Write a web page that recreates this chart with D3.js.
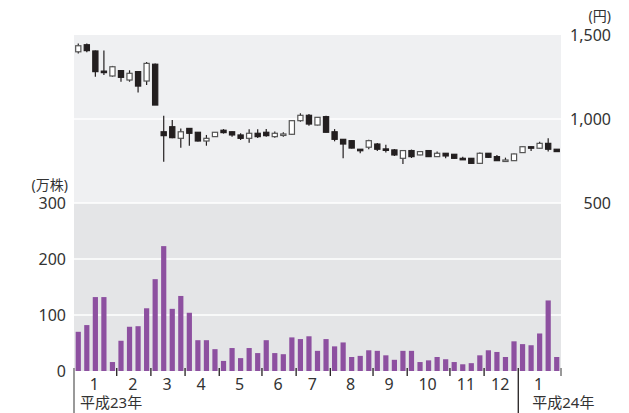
<!DOCTYPE html>
<html>
<head>
<meta charset="utf-8">
<script src="https://cdn.jsdelivr.net/npm/d3@7"></script>
<style>
  body { margin: 0; background: #fff; }
  text { font-family: "Noto Sans", "Noto Sans CJK JP", sans-serif; fill: #333; }
</style>
</head>
<body>
<svg id="chart" width="629" height="413"></svg>
<script>
// weekly share price (yen), 平成23年1月 - 平成24年1月
const open  = [1400,1442,1405,1285,1256,1288,1232,1282,1226,1326, 924, 954, 885, 944, 921, 869, 895, 933, 924, 905,
                885, 915, 921, 895, 908, 909, 990,1022, 964,1014, 924, 879, 871, 820, 832, 851, 822, 816, 766, 812,
                786, 812, 776, 796, 790, 766, 766, 736, 796, 776, 752, 752, 800, 835, 826, 855, 820];
const high  = [1450,1450,1408,1407,1316,1290,1290,1285,1339,1331,1020, 994, 944, 946, 923, 905, 923, 940, 926, 915,
                939, 939, 940, 925, 921, 992,1034,1030,1012,1020, 940, 881, 873, 820, 877, 857, 847, 822, 815, 818,
                808, 814, 806, 798, 792, 776, 768, 800, 798, 786, 770, 794, 837, 837, 865, 885, 822];
const low   = [1390,1397,1252,1262,1252,1222,1222,1157,1202,1083, 746, 885, 829, 841, 866, 841, 893, 913, 895, 875,
                859, 887, 895, 889, 895, 905, 984, 960, 962, 919, 867, 766, 825, 796, 820, 810, 800, 780, 732, 768,
                784, 774, 776, 766, 762, 756, 734, 734, 770, 750, 750, 750, 798, 810, 824, 806, 804];
const close = [1436,1407,1282,1280,1311,1248,1272,1196,1331,1083, 901, 889, 924, 915, 869, 885, 921, 919, 905, 885,
                915, 895, 901, 915, 911, 990,1022, 970,1010, 921, 879, 851, 827, 815, 871, 820, 818, 786, 812, 776,
                806, 776, 796, 780, 766, 762, 736, 796, 772, 752, 756, 792, 835, 826, 855, 820, 806];
// weekly volume (万株)
const volume = [70, 82,132,132, 16, 54, 79, 80,112,164,223,111,134,104, 55, 55, 39, 18, 41, 23,
                41, 32, 55, 32, 30, 60, 57, 62, 36, 57, 44, 51, 25, 27, 37, 36, 28, 20, 36, 36,
                16, 19, 25, 21, 16, 12, 14, 28, 37, 34, 25, 53, 48, 46, 67,126, 25];

const monthLabels = ["1","2","3","4","5","6","7","8","9","10","11","12","1"];
const monthStarts = [0, 5, 9, 13, 17, 22, 26, 30, 35, 39, 44, 48, 52];
const yearLabels = ["平成23年", "平成24年"];
const yearStarts = [0, 52];
const priceTicks = [500, 1000, 1500];
const volumeTicks = [0, 100, 200, 300];

const svg = d3.select("#chart");
const left = 74, right = 561;
const weeks = volume.map((d, i) => i);

const x = d3.scaleBand()
    .domain(weeks)
    .range([left, right])
    .padding(0);
const bw = x.bandwidth();
const cx = i => x(i) + bw / 2;

const yPrice = d3.scaleLinear().domain([500, 1500]).range([203, 35]);
const yVol = d3.scaleLinear().domain([0, 300]).range([371, 203]);

// panel backgrounds
svg.append("rect")
    .attr("x", left).attr("y", yPrice(1500))
    .attr("width", right - left).attr("height", yPrice(500) - yPrice(1500))
    .attr("fill", "#eff0f2");
svg.append("rect")
    .attr("x", left).attr("y", yVol(300))
    .attr("width", right - left).attr("height", yVol(0) - yVol(300))
    .attr("fill", "#e4e5e7");

// grid lines
svg.append("g")
    .selectAll("line.pgrid")
    .data(priceTicks.filter(d => d > 500 && d < 1500))
    .join("line")
    .attr("x1", left).attr("x2", right)
    .attr("y1", d => yPrice(d)).attr("y2", d => yPrice(d))
    .attr("stroke", "#fff").attr("stroke-width", 1.5);
svg.append("g")
    .selectAll("line.vgrid")
    .data(volumeTicks.filter(d => d > 0))
    .join("line")
    .attr("x1", left).attr("x2", right)
    .attr("y1", d => yVol(d)).attr("y2", d => yVol(d))
    .attr("stroke", "#fff").attr("stroke-width", 1.5);

// volume bars
svg.append("g")
    .selectAll("rect")
    .data(weeks)
    .join("rect")
    .attr("x", i => cx(i) - 2.6)
    .attr("width", 5.2)
    .attr("y", i => yVol(volume[i]))
    .attr("height", i => yVol(0) - yVol(volume[i]))
    .attr("fill", "#8d50a0");

// candles
const candles = svg.append("g")
    .selectAll("g")
    .data(weeks)
    .join("g");

candles.append("line")
    .attr("x1", cx).attr("x2", cx)
    .attr("y1", i => yPrice(high[i]))
    .attr("y2", i => yPrice(low[i]))
    .attr("stroke", "#231f20")
    .attr("stroke-width", 1.2);

candles.append("rect")
    .attr("x", i => cx(i) - 2.6)
    .attr("width", 5.2)
    .attr("y", i => yPrice(Math.max(open[i], close[i])))
    .attr("height", i => Math.max(1.5, yPrice(Math.min(open[i], close[i])) - yPrice(Math.max(open[i], close[i]))))
    .attr("fill", i => close[i] > open[i] ? "#fff" : "#231f20")
    .attr("stroke", i => close[i] > open[i] ? "#555" : "#231f20")
    .attr("stroke-width", 1.2);

// left axis (volume)
svg.append("g")
    .selectAll("text")
    .data(volumeTicks)
    .join("text")
    .attr("x", 66)
    .attr("y", d => yVol(d))
    .attr("dy", "0.35em")
    .attr("text-anchor", "end")
    .attr("font-size", 16)
    .text(d => d);
svg.append("text")
    .attr("x", 68).attr("y", 185).attr("dy", "0.35em")
    .attr("text-anchor", "end")
    .attr("font-size", 14)
    .text("(万株)");

// right axis (price)
svg.append("g")
    .selectAll("text")
    .data(priceTicks)
    .join("text")
    .attr("x", 611)
    .attr("y", d => yPrice(d))
    .attr("dy", "0.35em")
    .attr("text-anchor", "end")
    .attr("font-size", 16)
    .text(d => d3.format(",")(d));
svg.append("text")
    .attr("x", 611).attr("y", 16).attr("dy", "0.35em")
    .attr("text-anchor", "end")
    .attr("font-size", 14)
    .text("(円)");

// month ticks and labels
const bounds = monthStarts.map(i => x(i)).concat([right]);
svg.append("g")
    .selectAll("line")
    .data(bounds)
    .join("line")
    .attr("x1", d => d).attr("x2", d => d)
    .attr("y1", 368)
    .attr("y2", (d, k) => (k === 0 || k === 12) ? 413 : 376)
    .attr("stroke", (d, k) => (k === 0 || k === bounds.length - 1) ? "#999" : "#231f20")
    .attr("stroke-width", (d, k) => (k === 0 || k === bounds.length - 1) ? 2 : 1.3);

svg.append("g")
    .selectAll("text")
    .data(monthLabels)
    .join("text")
    .attr("x", (d, k) => (bounds[k] + bounds[k + 1]) / 2 - 1)
    .attr("y", 384)
    .attr("dy", "0.35em")
    .attr("text-anchor", "middle")
    .attr("font-size", 16)
    .text(d => d);

svg.append("g")
    .selectAll("text")
    .data(yearLabels)
    .join("text")
    .attr("x", (d, k) => x(yearStarts[k]) + (k === 0 ? 6 : 14))
    .attr("y", 403)
    .attr("dy", "0.35em")
    .attr("font-size", 15)
    .text(d => d);
</script>
</body>
</html>
